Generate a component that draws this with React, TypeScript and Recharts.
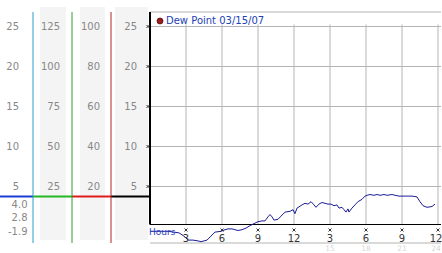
import { CartesianGrid, Legend, Line, LineChart, ReferenceLine, XAxis, YAxis } from "recharts";

// hours since midnight
const hours = [
  0, 0.5, 1, 1.5, 2, 2.42, 2.83, 3.17, 3.58, 4, 4.25, 4.5, 4.75, 5.08, 5.42, 5.92, 6.25, 6.5, 6.83, 7.08,
  7.33, 7.67, 8, 8.33, 8.58, 9, 9.33, 9.58, 9.83, 10, 10.17, 10.33, 10.67, 10.92, 11.25, 11.67, 11.92, 12.08,
  12.25, 12.67, 12.92, 13.17, 13.42, 13.67, 13.83, 14.08, 14.33, 14.58, 14.83, 15.08, 15.33, 15.58, 15.75, 16,
  16.17, 16.33, 16.5, 16.58, 16.83, 17.08, 17.33, 17.67, 17.92, 18.08, 18.33, 18.67, 18.92, 19.17, 19.5, 19.75,
  20.17, 20.42, 20.75, 21.83, 22.25, 22.5, 22.75, 23.08, 23.5, 23.75,
];
const dewPoint = [
  -0.6, -0.6, -0.6, -0.6, -0.7, -0.8, -1.2, -1.7, -1.7, -1.8, -1.9, -1.8, -1.7, -1.2, -0.7, -0.6, -0.4, -0.3, -0.3, -0.4,
  -0.5, -0.4, -0.2, 0.1, 0.3, 0.6, 0.7, 0.7, 1.2, 1.5, 1.2, 0.8, 0.9, 1.3, 1.8, 1.9, 2.1, 1.6,
  2.3, 2.7, 2.9, 2.8, 3.1, 2.7, 2.4, 2.8, 3.0, 2.9, 2.8, 2.8, 2.6, 2.7, 2.3, 2.4,
  2.1, 1.8, 2.2, 1.8, 2.3, 2.7, 3.1, 3.4, 3.8, 3.9, 4.0, 3.9, 4.0, 3.9, 4.0, 3.9,
  4.0, 3.9, 3.8, 3.8, 3.7, 3.1, 2.6, 2.4, 2.5, 2.8,
];

const xTicks = [3, 6, 9, 12, 15, 18, 21, 24];
const xTickLabels = ["3", "6", "9", "12", "3", "6", "9", "12"];
const xTickLabels24 = ["", "", "", "", "15", "18", "21", "24"];
const yTicks = [5, 10, 15, 20, 25];
const yTicksX5 = [25, 50, 75, 100, 125];
const yTicksX4 = [20, 40, 60, 80, 100];
const statLabels = ["4.0", "2.8", "-1.9"];
const markerValue = 3.75;
const seriesName = "Dew Point 03/15/07";

const data = hours.map((h, i) => ({ h, dew: dewPoint[i] }));

const FONT = "'DejaVu Sans', Verdana, sans-serif";
const Y_MIN = -2.0625;
const Y_MAX = 26.8125;

// recharts stacks the left axes by id, "a" sits next to the plot
const MAIN = "a";

function Star({ x, y }: { x: number; y: number }) {
  return (
    <path
      d={`M${x - 1.5},${y - 1.5}L${x + 1.5},${y + 1.5}M${x + 1.5},${y - 1.5}L${x - 1.5},${y + 1.5}`}
      stroke="#222"
      strokeWidth={0.9}
    />
  );
}

function MainYTick(props: any) {
  const { x, y, payload } = props;
  return (
    <g>
      <text x={x} y={y} dy={3.5} textAnchor="end" fill="#888" fontSize={10} fontFamily={FONT}>
        {payload.value}
      </text>
      <Star x={x + 11} y={y} />
    </g>
  );
}

function HourTick(props: any) {
  const { x, y, payload } = props;
  const i = xTicks.indexOf(payload.value);
  // keep the last label inside the frame
  const tx = Math.min(x, 436);
  return (
    <g>
      <Star x={x} y={y - 13} />
      <text x={tx} y={y - 1.5} textAnchor="middle" fill="#333" fontSize={10} fontFamily={FONT}>
        {xTickLabels[i]}
      </text>
      <text x={tx} y={y + 8} textAnchor="middle" fill="#d8d8d8" fontSize={7.5} fontFamily={FONT}>
        {xTickLabels24[i]}
      </text>
    </g>
  );
}

function LegendBox(props: any) {
  const item = props.payload?.[0];
  return (
    <div style={{ display: "flex", alignItems: "center", fontFamily: FONT, fontSize: 10, lineHeight: "12px", color: "#2241b5", whiteSpace: "nowrap" }}>
      <svg width={8} height={8}>
        <circle cx={4} cy={4} r={3} fill="#9b1c1c" stroke="#5a0e0e" strokeWidth={0.8} />
      </svg>
      <span style={{ marginLeft: 2 }}>{item ? item.value : seriesName}</span>
    </div>
  );
}

// current-value marker across the scale columns (x in hours, left of 0)
const scaleCols = [
  { from: -12.5, to: -9.75, color: "#1b3fd6" },
  { from: -9.75, to: -6.5, color: "#23b823" },
  { from: -6.5, to: -3.25, color: "#e01b1b" },
  { from: -3.25, to: 0, color: "#000" },
];

export default function App() {
  const tickStyle = { fill: "#888", fontSize: 10, fontFamily: FONT };
  return (
    <div style={{ position: "absolute", left: 0, top: 0, width: 442, height: 253, background: "#fff", overflow: "hidden" }}>
      <div style={{ position: "absolute", left: 40, top: 7, width: 26, height: 233, background: "#f4f4f4" }} />
      <div style={{ position: "absolute", left: 80, top: 7, width: 25, height: 233, background: "#f4f4f4" }} />
      <div style={{ position: "absolute", left: 115, top: 7, width: 33, height: 233, background: "#f4f4f4" }} />
      <div style={{ position: "absolute", left: 0, top: 0 }}>
        <LineChart width={442} height={253} data={data} margin={{ top: 12, right: 1, bottom: 0, left: 0 }}>
          <CartesianGrid yAxisId={MAIN} vertical={false} stroke="#b4b4b4" />
          <XAxis
            dataKey="h"
            type="number"
            domain={[0, 24.25]}
            ticks={xTicks}
            interval={0}
            axisLine={false}
            tickLine={false}
            tickSize={0}
            tickMargin={0}
            height={10}
            tick={<HourTick />}
          />
          <YAxis
            yAxisId={MAIN}
            type="number"
            domain={[Y_MIN, Y_MAX]}
            allowDataOverflow
            ticks={yTicks}
            width={39}
            axisLine={false}
            tickLine={false}
            tickSize={0}
            tickMargin={13}
            tick={<MainYTick />}
          />
          <YAxis
            yAxisId="b"
            type="number"
            domain={[Y_MIN * 4, Y_MAX * 4]}
            allowDataOverflow
            ticks={yTicksX4}
            width={39}
            axisLine={{ stroke: "#b22222" }}
            tickLine={false}
            tickSize={0}
            tickMargin={11}
            tick={tickStyle}
          />
          <YAxis
            yAxisId="c"
            type="number"
            domain={[Y_MIN * 5, Y_MAX * 5]}
            allowDataOverflow
            ticks={yTicksX5}
            width={39}
            axisLine={{ stroke: "#2e9e2e" }}
            tickLine={false}
            tickSize={0}
            tickMargin={12}
            tick={tickStyle}
          />
          <YAxis
            yAxisId="d"
            type="number"
            domain={[Y_MIN, Y_MAX]}
            allowDataOverflow
            ticks={yTicks}
            width={33}
            axisLine={{ stroke: "#2a9fcc" }}
            tickLine={false}
            tickSize={0}
            tickMargin={14}
            tick={tickStyle}
          />
          {xTicks.map((t) => (
            <ReferenceLine
              key={t}
              yAxisId={MAIN}
              segment={[{ x: t, y: 0.25 }, { x: t, y: 25.25 }]}
              stroke="#b4b4b4"
            />
          ))}
          <ReferenceLine yAxisId={MAIN} y={0.25} stroke="#000" strokeWidth={1} />
          <ReferenceLine
            yAxisId={MAIN}
            segment={[{ x: 0, y: 0.25 }, { x: 0, y: Y_MAX }]}
            stroke="#000"
            strokeWidth={2}
            ifOverflow="visible"
          />
          {scaleCols.map((c) => (
            <ReferenceLine
              key={c.color}
              yAxisId={MAIN}
              segment={[{ x: c.from, y: markerValue }, { x: c.to, y: markerValue }]}
              stroke={c.color}
              strokeWidth={2}
              ifOverflow="visible"
            />
          ))}
          <Legend
            verticalAlign="middle"
            layout="horizontal"
            wrapperStyle={{ top: 15, left: 156, width: "auto" }}
            content={<LegendBox />}
          />
          <Line
            yAxisId={MAIN}
            type="linear"
            dataKey="dew"
            name={seriesName}
            stroke="#1c1c96"
            strokeWidth={1}
            dot={false}
            isAnimationActive={false}
          />
        </LineChart>
      </div>
      <svg width={442} height={253} style={{ position: "absolute", left: 0, top: 0, pointerEvents: "none" }}>
        {statLabels.map((s, i) => (
          <text key={s} x={27.5} y={207.5 + i * 13.7} textAnchor="end" fill="#888" fontSize={10} fontFamily={FONT}>
            {s}
          </text>
        ))}
        <text x={149} y={235} fill="#2a3fc0" fontSize={9} fontFamily={FONT}>
          Hours
        </text>
      </svg>
    </div>
  );
}
